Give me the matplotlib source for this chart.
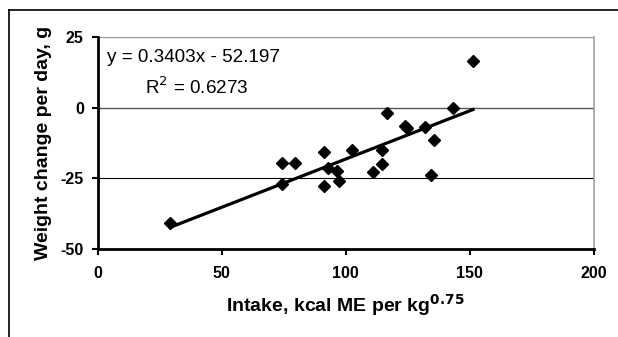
import numpy as np
import matplotlib
matplotlib.use("Agg")
import matplotlib.pyplot as plt
from matplotlib.lines import Line2D

plt.rcParams['font.family'] = ['Liberation Sans', 'DejaVu Sans']
plt.rcParams['axes.unicode_minus'] = False

# intake (kcal ME per kg^0.75) and weight change (g/day)
intake = [29.2, 74.2, 74.2, 79.6, 91.3, 93.0, 96.4, 91.2, 97.4, 102.4, 111.1,
          114.8, 114.8, 116.8, 123.9, 124.6, 132.0, 135.6, 134.3, 143.4, 151.4]
gain = [-40.7, -27.0, -19.6, -19.6, -15.5, -21.2, -22.2, -27.6, -25.8, -14.9, -22.8,
        -15.1, -19.9, -1.8, -6.4, -7.3, -6.9, -11.6, -23.9, 0.0, 16.4]

slope = 0.3403
intercept = -52.197
r2 = 0.6273

xticks = [0, 50, 100, 150, 200]
yticks = [-50, -25, 0, 25]

fig = plt.figure(figsize=(6.18, 3.37), dpi=100)
ax = fig.add_axes([0.158, 0.2602, 0.8024, 0.6308])

# gridlines
ax.axhline(25, color='#999999', lw=1.0, zorder=1)
ax.axhline(0, color='#555555', lw=1.0, zorder=1)
ax.axhline(-25, color='black', lw=0.8, zorder=1)

ax.plot(intake, gain, 'D', color='black', markersize=6.3, zorder=3)

xs = np.array([min(intake), max(intake)])
ax.plot(xs, slope * xs + intercept, color='black', lw=2.3, zorder=2)

ax.set_xlim(0, 200)
ax.set_ylim(-50, 25)
ax.set_xticks(xticks)
ax.set_yticks(yticks)
ax.tick_params(direction='out', length=4, width=1.5, labelsize=11.5)
ax.tick_params(axis='x', pad=8)
ax.tick_params(axis='y', pad=6)
for lab in ax.get_xticklabels() + ax.get_yticklabels():
    lab.set_fontweight('bold')

ax.spines['left'].set_linewidth(2)
ax.spines['bottom'].set_linewidth(2)
ax.spines['top'].set_visible(False)
ax.spines['right'].set_color('#a0a0a0')
ax.spines['right'].set_linewidth(1.2)

ax.set_xlabel('Intake, kcal ME per kg$^{\\mathbf{0.75}}$', fontsize=14,
              fontweight='bold', labelpad=8)
ax.set_ylabel('Weight change per day, g', fontsize=14, fontweight='bold',
              labelpad=6)

ax.text(3.75, 17.5, 'y = %.4fx - %.3f' % (slope, -intercept), fontsize=13.6,
        va='center', ha='left')
ax.text(19.1, 7.3, 'R$^2$ = %.4f' % r2, fontsize=13.6, va='center', ha='left')

# outer chart frame (top and left edges visible)
y0 = 1 - 10 / 337
x0 = 9 / 618
fig.add_artist(Line2D([x0, 1], [y0, y0], color='black', lw=1.2, transform=fig.transFigure))
fig.add_artist(Line2D([x0, x0], [0, y0], color='black', lw=1.2, transform=fig.transFigure))

fig.savefig('out.png', dpi=100)
